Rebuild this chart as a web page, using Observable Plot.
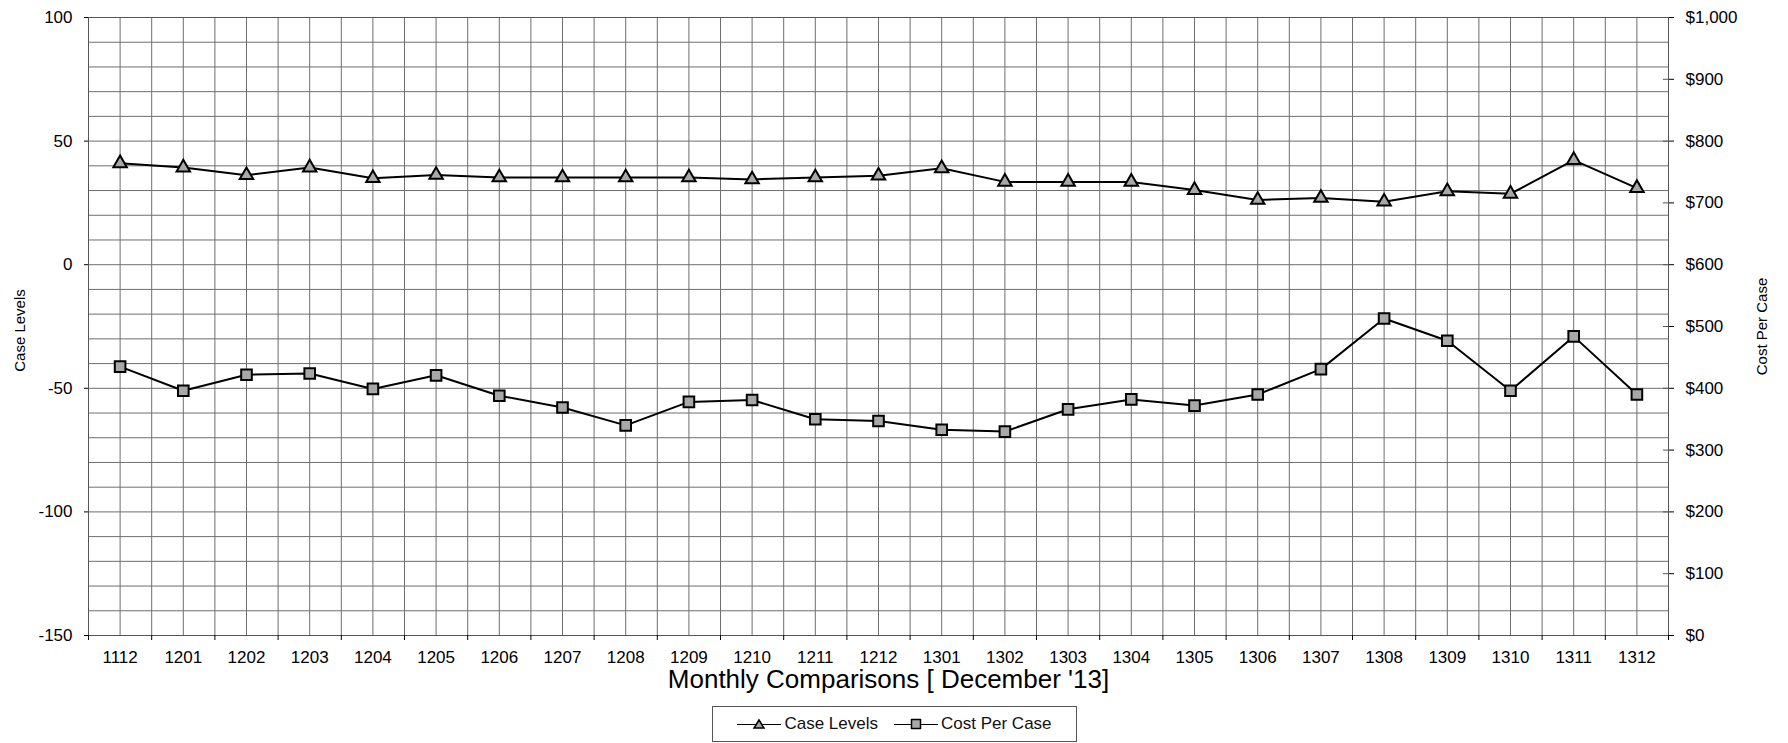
<!DOCTYPE html>
<html>
<head>
<meta charset="utf-8">
<script src="https://cdn.jsdelivr.net/npm/d3@7"></script>
<script src="https://cdn.jsdelivr.net/npm/@observablehq/plot@0.6"></script>
<style>
  html, body { margin: 0; padding: 0; background: white; }
  body { width: 1788px; height: 743px; position: relative; overflow: hidden; font-family: "Liberation Sans", Arial, sans-serif; }
  #legend { position: absolute; left: 712px; top: 706px; width: 365px; height: 36px; border: 1px solid #555; box-sizing: border-box;
            display: flex; align-items: center; justify-content: center; gap: 16px; font-size: 17px; color: #111; }
  #legend .item { display: flex; align-items: center; gap: 3px; }
</style>
</head>
<body>
<div id="chart"></div>
<div id="legend"></div>
<script>
const categories = ["1112","1201","1202","1203","1204","1205","1206","1207","1208","1209","1210","1211","1212",
                    "1301","1302","1303","1304","1305","1306","1307","1308","1309","1310","1311","1312"];
const caseLevels = [41.0, 39.3, 36.2, 39.3, 35.0, 36.3, 35.3, 35.3, 35.3, 35.3, 34.5, 35.3, 36.0,
                    39.0, 33.5, 33.5, 33.5, 30.2, 26.2, 27.0, 25.5, 29.7, 28.7, 42.3, 31.0];
const costPerCase = [435, 396, 422, 424, 399, 421, 388, 369, 340, 378, 381, 350, 347,
                     333, 330, 366, 382, 372, 390, 431, 513, 477, 396, 484, 390];
const leftTicks = [-150, -100, -50, 0, 50, 100];
const rightTicks = [0, 100, 200, 300, 400, 500, 600, 700, 800, 900, 1000];
const seriesNames = ["Case Levels", "Cost Per Case"];
const xTitle = "Monthly Comparisons [ December '13]";

// right axis ($0..$1,000) shares the frame with the left axis (-150..100)
const toLeft = v => v / 4 - 150;
const toRight = v => (v + 150) * 4;

const n = categories.length;
const data = categories.map((c, i) => ({i, c, cases: caseLevels[i], cost: toLeft(costPerCase[i])}));
const hGrid = d3.range(-150, 101, 10);
const vGrid = d3.range(-0.5, n, 0.5);
const gridColor = "#6e6e6e";

const chart = Plot.plot({
  width: 1788, height: 700,
  marginLeft: 88, marginRight: 120, marginTop: 17, marginBottom: 65,
  style: {fontFamily: "'Liberation Sans', Arial, sans-serif", fontSize: "17px", color: "black", background: "white"},
  x: {type: "linear", domain: [-0.5, n - 0.5]},
  y: {domain: [-150, 100]},
  marks: [
    Plot.ruleY(hGrid, {stroke: gridColor, strokeWidth: 1}),
    Plot.ruleX(vGrid, {stroke: gridColor, strokeWidth: 1}),
    Plot.frame({stroke: "#555"}),
    Plot.axisY(leftTicks, {anchor: "left", tickSize: 4, tickPadding: 12, label: null, fontSize: 17,
      tickFormat: v => String(v)}),
    Plot.axisY(rightTicks.map(toLeft), {anchor: "right", tickSize: 5, tickPadding: 12, label: null, fontSize: 17,
      tickFormat: v => "$" + d3.format(",")(Math.round(toRight(v)))}),
    Plot.ruleY(rightTicks.map(toLeft), {x1: () => n - 0.58, x2: () => n - 0.5, stroke: "#555"}),
    Plot.axisX(categories.map((c, i) => i), {anchor: "bottom", tickSize: 0, tickPadding: 15, label: null, fontSize: 17,
      tickFormat: i => categories[i]}),
    Plot.axisX(d3.range(-0.5, n, 1), {anchor: "bottom", tickSize: 5, label: null, tickFormat: () => ""}),
    Plot.text([xTitle], {frameAnchor: "bottom", dy: 52, dx: 10, fontSize: 26, fill: "black"}),
    Plot.text([seriesNames[0]], {frameAnchor: "left", textAnchor: "middle", dx: -68, dy: 4, rotate: -90, fontSize: 15, fill: "black"}),
    Plot.text([seriesNames[1]], {frameAnchor: "right", textAnchor: "middle", dx: 94, rotate: -90, fontSize: 15, fill: "black"}),
    Plot.line(data, {x: "i", y: "cases", stroke: "black", strokeWidth: 2}),
    Plot.line(data, {x: "i", y: "cost", stroke: "black", strokeWidth: 2}),
    Plot.dot(data, {x: "i", y: "cases", symbol: "triangle", r: 5, fill: "#a8a8a8", stroke: "black", strokeWidth: 2}),
    Plot.dot(data, {x: "i", y: "cost", symbol: "square", r: 6, fill: "#a8a8a8", stroke: "black", strokeWidth: 2})
  ]
});
document.getElementById("chart").appendChild(chart);

// legend
const legend = document.getElementById("legend");
const symbols = [
  '<polygon points="22,3 27,11 17,11" fill="#a8a8a8" stroke="black" stroke-width="1.5"/>',
  '<rect x="17.5" y="2.5" width="9" height="9" fill="#a8a8a8" stroke="black" stroke-width="1.5"/>'
];
seriesNames.forEach((name, k) => {
  const item = document.createElement("div");
  item.className = "item";
  item.innerHTML = `<svg width="44" height="14"><line x1="0" y1="7.5" x2="44" y2="7.5" stroke="black" stroke-width="1.2"/>${symbols[k]}</svg><span>${name}</span>`;
  legend.appendChild(item);
});
</script>
</body>
</html>
